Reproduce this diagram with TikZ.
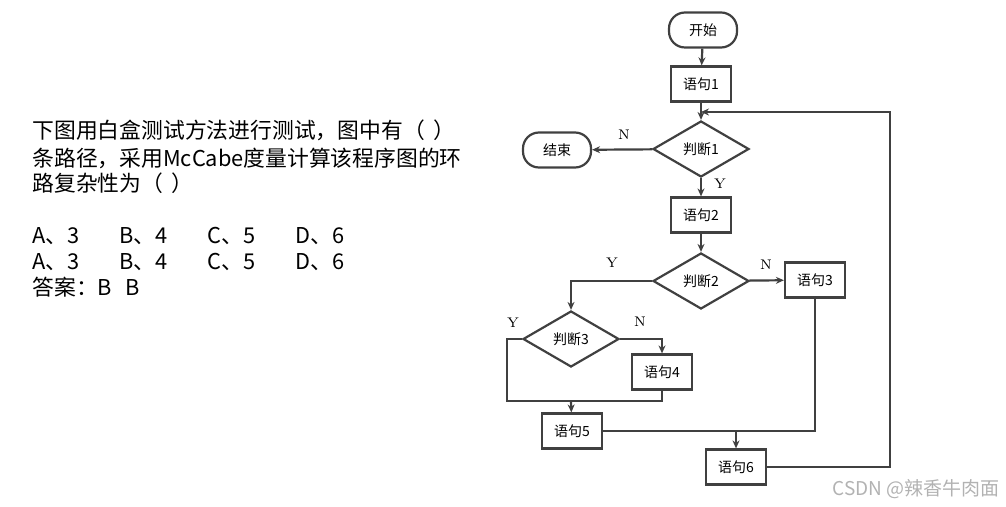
\documentclass[tikz,border=0pt]{standalone}
\usepackage{fontspec}
\newfontfamily\cjk{Noto Sans CJK SC}
\usetikzlibrary{shapes.geometric,arrows.meta}

\begin{document}
\begin{tikzpicture}[x=0.5pt,y=-0.5pt,
    line/.style={draw=black!75,line width=1.1pt},
    arr/.style={line,-{Stealth[length=4pt,width=3.5pt]}},
    stmt/.style={line,rectangle,minimum width=30pt,minimum height=17.5pt,inner sep=0pt,font=\cjk\fontsize{7}{8}\selectfont},
    term/.style={stmt,rounded corners=8pt,minimum width=34pt},
    test/.style={line,diamond,minimum width=48pt,minimum height=28pt,inner sep=0pt,font=\cjk\fontsize{7}{8}\selectfont},
    yn/.style={inner sep=0pt,font=\fontsize{7}{8}\selectfont},
    qtext/.style={anchor=west,inner sep=0pt,font=\cjk\fontsize{10.9}{13}\selectfont}]
    \useasboundingbox (0,0) rectangle (1006,507);

    % Question
    \node (q1) [qtext] at (32,130) {下图用白盒测试方法进行测试，图中有（\hspace{0.4em}）};
    \node (q2) [qtext] at (32,158) {条路径，采用McCabe度量计算该程序图的环};
    \node (q3) [qtext] at (32,183) {路复杂性为（\hspace{0.4em}）};
    \foreach \y/\r in {236/a,262/b} {
        \node (\r A) [qtext] at (32,\y) {A、3};
        \node (\r B) [qtext] at (119,\y) {B、4};
        \node (\r C) [qtext] at (207,\y) {C、5};
        \node (\r D) [qtext] at (295,\y) {D、6};
    }
    \node (ans) [qtext] at (32,287) {答案：B\hspace{0.6em}B};

    % Boxes
    \node (start) [term] at (703,30) {开始};
    \node (s1) [stmt] at (701,84) {语句1};
    \node (d1) [test] at (701,149) {判断1};
    \node (end) [term] at (557,150) {结束};
    \node (s2) [stmt] at (701,215) {语句2};
    \node (d2) [test] at (701,281) {判断2};
    \node (s3) [stmt] at (815,280) {语句3};
    \node (d3) [test] at (571,339) {判断3};
    \node (s4) [stmt] at (662,372) {语句4};
    \node (s5) [stmt] at (572,431) {语句5};
    \node (s6) [stmt] at (736,467) {语句6};

    % Helper points
    \coordinate (j1) at (701,112);
    \coordinate (back) at (890,112);
    \coordinate (m3) at (571,401);
    \coordinate (left3) at (507,339);

    % Connectors
    \draw [arr] (start) -- (s1);
    \draw [arr] (s1) -- (d1);
    \draw [arr] (d1) -- (end);
    \draw [arr] (d1) -- (s2);
    \draw [arr] (s2) -- (d2);
    \draw [arr] (d2) -- (s3);
    \draw [arr] (d2.west) -| (d3.north);
    \draw [arr] (d3.east) -| (s4.north);
    \draw [line] (d3.west) -- (left3) |- (s4.south |- m3) -- (s4.south);
    \draw [arr] (m3) -- (s5);
    \draw [line] (s5.east) -| (s3.south);
    \draw [arr] (s6.north |- s5.east) -- (s6.north);
    \draw [arr] (s6.east) -| (back) -- (j1);

    % Y / N
    \node (n1) [yn] at (624,135) {N};
    \node (y1) [yn] at (720,184) {Y};
    \node (y2) [yn] at (612,263) {Y};
    \node (n2) [yn] at (766,265) {N};
    \node (y3) [yn] at (513,323) {Y};
    \node (n3) [yn] at (640,322) {N};

    % Footer
    \node (csdn) [anchor=east,inner sep=0pt,text=black!30,font=\cjk\fontsize{9.5}{11}\selectfont] at (1000,489) {CSDN @辣香牛肉面};
\end{tikzpicture}
\end{document}
